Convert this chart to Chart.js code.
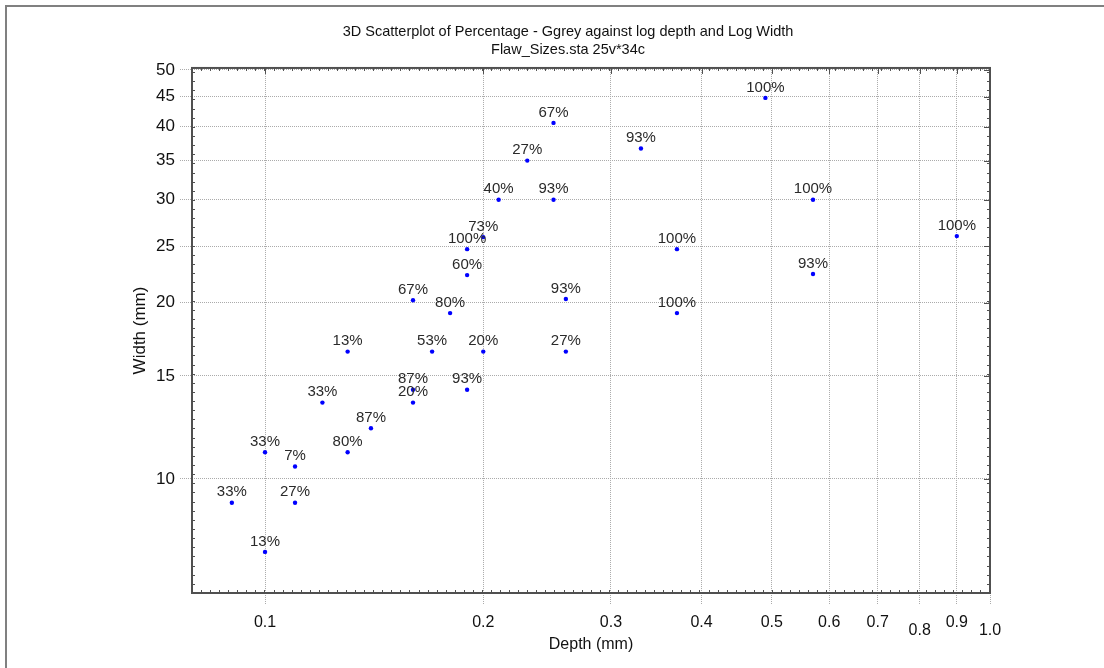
<!DOCTYPE html>
<html>
<head>
<meta charset="utf-8">
<title>3D Scatterplot of Percentage</title>
<script src="https://cdn.jsdelivr.net/npm/chart.js@4.4.1/dist/chart.umd.min.js"></script>
<style>
  html, body { margin: 0; padding: 0; background: #fff; }
  #wrap { position: relative; width: 1104px; height: 668px; }
  #frame {
    position: absolute; left: 5px; top: 5px; right: 0; bottom: 0;
    border-left: 2px solid #808080; border-top: 2px solid #808080;
    pointer-events: none;
  }
</style>
</head>
<body>
<div id="wrap">
  <canvas id="scatter" width="1104" height="668"></canvas>
  <div id="frame"></div>
</div>
<script>
// Data (depth mm, width mm, % grey)
const depth = [0.09, 0.10, 0.10, 0.11, 0.11, 0.13, 0.14, 0.12, 0.13, 0.16,
               0.16, 0.17, 0.19, 0.20, 0.18, 0.16, 0.19, 0.19, 0.20, 0.21,
               0.25, 0.23, 0.25, 0.33, 0.26, 0.26, 0.37, 0.37, 0.49, 0.57,
               0.57, 0.90];
const width = [9.1, 7.5, 11.1, 10.5, 9.1, 11.1, 12.2, 13.5, 16.5, 13.5,
               14.2, 16.5, 14.2, 16.5, 19.2, 20.2, 22.3, 24.7, 25.9, 30.0,
               30.0, 35.0, 40.6, 36.7, 20.3, 16.5, 24.7, 19.2, 44.8, 30.0,
               22.4, 26.0];
const percent = [33, 13, 33, 7, 27, 80, 87, 33, 13, 20,
                 87, 53, 93, 20, 80, 67, 60, 100, 73, 40,
                 93, 27, 67, 93, 93, 27, 100, 100, 100, 100,
                 93, 100];

const xTicks = [0.1, 0.2, 0.3, 0.4, 0.5, 0.6, 0.7, 0.8, 0.9, 1.0];
const xTicksLowered = [0.8, 1.0];   // these labels sit a bit lower in the original
const yTicks = [10, 15, 20, 25, 30, 35, 40, 45, 50];

const FONT = '"Liberation Sans", Arial, sans-serif';

// labels above each point
const pointLabels = {
    id: "pointLabels",
    afterDatasetsDraw(chart) {
        const ctx = chart.ctx;
        const meta = chart.getDatasetMeta(0);
        ctx.save();
        ctx.font = "15px " + FONT;
        ctx.fillStyle = "#2a2a2a";
        ctx.textAlign = "center";
        ctx.textBaseline = "bottom";
        meta.data.forEach((pt, i) => {
            ctx.fillText(percent[i] + "%", pt.x, pt.y - 3);
        });
        ctx.restore();
    }
};

// box around the plot + small ticks like the original
const plotFrame = {
    id: "plotFrame",
    afterDraw(chart) {
        const { ctx, chartArea: a, scales: { x, y } } = chart;
        ctx.save();
        ctx.strokeStyle = "#505050";
        ctx.lineWidth = 1;
        ctx.beginPath();
        // minor ticks along x (bottom and top)
        const lx0 = Math.log10(x.min), lx1 = Math.log10(x.max);
        for (let v = lx0; v <= lx1; v += 1 / 80) {
            const px = Math.round(x.getPixelForValue(Math.pow(10, v))) + 0.5;
            ctx.moveTo(px, a.bottom); ctx.lineTo(px, a.bottom - 3);
            ctx.moveTo(px, a.top); ctx.lineTo(px, a.top + 3);
        }
        // minor ticks along y (left and right)
        const ly0 = Math.log10(y.min), ly1 = Math.log10(y.max);
        for (let v = ly0; v <= ly1; v += 1 / 64) {
            const py = Math.round(y.getPixelForValue(Math.pow(10, v))) + 0.5;
            ctx.moveTo(a.left, py); ctx.lineTo(a.left + 3, py);
            ctx.moveTo(a.right, py); ctx.lineTo(a.right - 3, py);
        }
        // major ticks on right and top edges
        yTicks.forEach(t => {
            const py = Math.round(y.getPixelForValue(t)) + 0.5;
            ctx.moveTo(a.right, py); ctx.lineTo(a.right - 6, py);
        });
        xTicks.forEach(t => {
            const px = Math.round(x.getPixelForValue(t)) + 0.5;
            ctx.moveTo(px, a.top); ctx.lineTo(px, a.top + 6);
        });
        ctx.stroke();
        ctx.lineWidth = 2;
        ctx.strokeRect(a.left, a.top, a.right - a.left, a.bottom - a.top);
        ctx.restore();
    }
};

const gridDots = {
    color: "#ababab",
    tickBorderDash: [1, 1],
    tickLength: 12,
    tickColor: "#ababab"
};

new Chart(document.getElementById("scatter"), {
    type: "scatter",
    data: {
        datasets: [{
            label: "Percentage - Ggrey",
            data: depth.map((d, i) => ({ x: d, y: width[i] })),
            backgroundColor: "#0000ff",
            borderWidth: 0,
            pointRadius: 2.2,
            pointHoverRadius: 2.2
        }]
    },
    options: {
        responsive: false,
        animation: false,
        events: [],
        layout: { padding: { left: 32, right: 0, top: 0, bottom: 10 } },
        plugins: {
            legend: { display: false },
            tooltip: { enabled: false },
            title: {
                display: true,
                text: ["3D Scatterplot of Percentage - Ggrey against log depth and Log Width",
                       "Flaw_Sizes.sta 25v*34c"],
                color: "#111",
                font: { family: FONT, size: 14.5, weight: "normal", lineHeight: 1.24 },
                padding: { top: 23, bottom: 9 }
            }
        },
        scales: {
            x: {
                type: "logarithmic",
                min: 0.0793,
                max: 1.0,
                afterBuildTicks: s => { s.ticks = xTicks.map(v => ({ value: v })); },
                afterFit: s => { s.height = 65; },
                ticks: {
                    color: "#111",
                    font: c => ({
                        family: FONT, size: 16,
                        lineHeight: (c.tick && xTicksLowered.includes(c.tick.value)) ? 0.73 : 1.2
                    }),
                    padding: 8,
                    maxRotation: 0,
                    autoSkip: false,
                    callback: v => xTicksLowered.includes(v) ? ["", Number(v).toFixed(1)] : Number(v).toFixed(1)
                },
                grid: gridDots,
                border: { display: false, dash: [1, 1] },
                title: {
                    display: true,
                    text: "Depth (mm)",
                    color: "#111",
                    font: { family: FONT, size: 16 },
                    padding: { top: 0, bottom: 4 }
                }
            },
            y: {
                type: "logarithmic",
                min: 6.38,
                max: 50.4,
                afterBuildTicks: s => { s.ticks = yTicks.map(v => ({ value: v })); },
                afterFit: s => { s.width = 160; },
                ticks: {
                    color: "#111",
                    font: { family: FONT, size: 17 },
                    padding: 5,
                    autoSkip: false,
                    callback: v => String(Math.round(v))
                },
                grid: gridDots,
                border: { display: false, dash: [1, 1] },
                title: {
                    display: true,
                    text: "Width (mm)",
                    color: "#111",
                    font: { family: FONT, size: 17 },
                    padding: { top: 98, bottom: 0 }
                }
            },
            // empty right-hand axis, only reserves the margin right of the plot
            yRight: {
                type: "linear",
                position: "right",
                afterFit: s => { s.width = 114; },
                ticks: { display: false },
                grid: { display: false },
                border: { display: false }
            }
        }
    },
    plugins: [pointLabels, plotFrame]
});
</script>
</body>
</html>
